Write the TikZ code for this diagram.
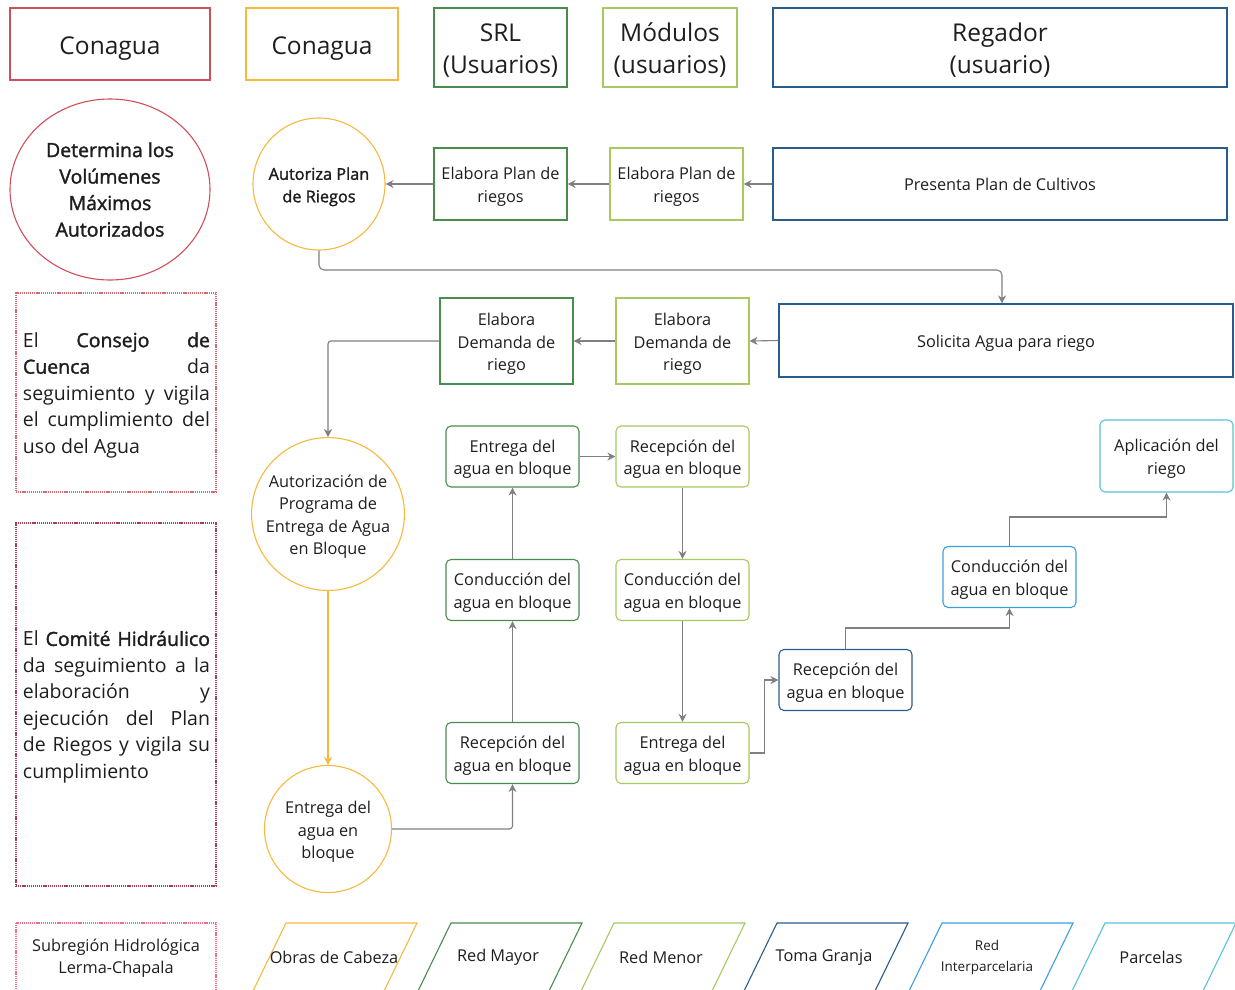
\documentclass[tikz,border=0pt]{standalone}
\usepackage{fontspec}
\setmainfont{Open Sans}
\newfontface\sbf[FakeBold=1.6]{Open Sans}
\usetikzlibrary{arrows.meta,shapes.geometric,calc}
\definecolor{cred}{RGB}{208,78,88}
\definecolor{corange}{RGB}{246,185,62}
\definecolor{cdgreen}{RGB}{72,140,78}
\definecolor{clgreen}{RGB}{166,202,96}
\definecolor{cdblue}{RGB}{40,92,140}
\definecolor{cblue}{RGB}{58,160,220}
\definecolor{ccyan}{RGB}{84,196,214}
\definecolor{cgray}{RGB}{128,128,128}
\definecolor{cmaroon}{RGB}{165,60,90}
\definecolor{cpink}{RGB}{240,110,140}
\definecolor{ctext}{RGB}{30,30,30}
\newcommand{\bstr}{\rule{0pt}{18pt}}
\newcommand{\hstr}{\rule{0pt}{24.6pt}}
\newcommand{\sstr}{\rule{0pt}{19pt}}
\newcommand{\ostr}{\rule[-4.5pt]{0pt}{22pt}}
\newcommand{\cstr}{\rule{0pt}{26.5pt}}
\tikzset{
  hdr/.style={draw, line width=1.3pt, align=center, inner sep=0pt, text=ctext, font=\fontsize{24.5}{32}\selectfont},
  bx/.style={draw, line width=1.1pt, align=center, inner sep=0pt, text=ctext, font=\fontsize{16.3}{22.5}\selectfont},
  rbx/.style={bx, rounded corners=5pt, minimum width=133pt, minimum height=61pt},
  circ/.style={circle, draw=corange, line width=1.1pt, align=center, inner sep=0pt, text=ctext, font=\fontsize{16.3}{22.5}\selectfont},
  dotbox/.style={draw, line width=1.2pt, dash pattern=on 1.2pt off 0.9pt},
  arr/.style={draw=cgray, line width=1.1pt, -{Stealth[length=8pt,width=8pt,inset=2.5pt]}},
  para/.style={line width=1.1pt},
  plabel/.style={text=ctext, align=center, inner sep=0pt, font=\fontsize{16.3}{22}\selectfont},
  sidetext/.style={text=ctext, align=left, inner sep=0pt, font=\fontsize{19.5}{26.5}\selectfont},
}
\begin{document}
\begin{tikzpicture}[x=1pt,y=-1pt]
\useasboundingbox (0,0) rectangle (1235,989);
% headers
\node[hdr, draw=cred, minimum width=200pt, minimum height=72pt] (h1) at (110,44) {\cstr Conagua};
\node[hdr, draw=corange, minimum width=152pt, minimum height=72pt] (h2) at (322,44) {\cstr Conagua};
\node[hdr, draw=cdgreen, minimum width=133pt, minimum height=79pt] (h3) at (500.5,47.5) {\hstr SRL\\(Usuarios)};
\node[hdr, draw=clgreen, minimum width=134pt, minimum height=79pt] (h4) at (670,47.5) {\hstr Módulos\\(usuarios)};
\node[hdr, draw=cdblue, minimum width=454pt, minimum height=79pt] (h5) at (1000,47.5) {\hstr Regador\\(usuario)};

% row 2
\node[ellipse, draw=cred, line width=1.1pt, minimum width=200pt, minimum height=181pt, inner sep=0pt, align=center, text=ctext, font=\fontsize{19.5}{26.5}\selectfont\sbf] (det) at (110,189.5) {Determina los\\Volúmenes\\Máximos\\Autorizados};
\node[circ, minimum size=132pt, font=\fontsize{16.3}{22.5}\selectfont\sbf] (aut) at (319,184) {\bstr Autoriza Plan\\de Riegos};
\node[bx, draw=cdgreen, minimum width=133pt, minimum height=72pt] (ep1) at (500.5,184) {\bstr Elabora Plan de\\riegos};
\node[bx, draw=clgreen, minimum width=133pt, minimum height=72pt] (ep2) at (676.5,184) {\bstr Elabora Plan de\\riegos};
\node[bx, draw=cdblue, minimum width=454pt, minimum height=72pt] (pres) at (1000,184) {\ostr Presenta Plan de Cultivos};

% row 3
\node[bx, draw=cdgreen, minimum width=133pt, minimum height=86pt] (dem1) at (506.5,341) {\bstr Elabora\\Demanda de\\riego};
\node[bx, draw=clgreen, minimum width=133pt, minimum height=86pt] (dem2) at (682.5,341) {\bstr Elabora\\Demanda de\\riego};
\node[bx, draw=cdblue, minimum width=454pt, minimum height=73pt] (sol) at (1006,340.5) {\ostr Solicita Agua para riego};

% left dotted boxes
\node[dotbox, draw=cred!85!white, minimum width=200pt, minimum height=199pt] (cons) at (116,392.5) {};
\node[sidetext] (constxt) at (116.5,393) {%
\hbox to 187pt{\sstr El\hfill{\sbf Consejo}\hfill{\sbf de}}\\
\hbox to 187pt{{\sbf Cuenca}\hfill da}\\
\hbox to 187pt{seguimiento\hfill y\hfill vigila}\\
\hbox to 187pt{el\hfill cumplimiento\hfill del}\\
\hbox to 187pt{uso del Agua\hfill}};
\node[dotbox, draw=cmaroon, minimum width=200pt, minimum height=363pt] (comi) at (116,704.5) {};
\node[sidetext] (comitxt) at (116.5,705) {%
\hbox to 187pt{\sstr El\hfill{\sbf Comité}\hfill{\sbf Hidráulico}}\\
\hbox to 187pt{da\hfill seguimiento\hfill a\hfill la}\\
\hbox to 187pt{elaboración\hfill y}\\
\hbox to 187pt{ejecución\hfill del\hfill Plan}\\
\hbox to 187pt{de\hfill Riegos\hfill y\hfill vigila\hfill su}\\
\hbox to 187pt{cumplimiento\hfill}};
\draw[dotbox, draw=cpink] (16,923) rectangle (216,991);
\node[plabel] (subr) at (116,958) {Subregión Hidrológica\\Lerma-Chapala};

% circles
\node[circ, minimum size=152pt] (autz) at (328,514) {\bstr Autorización de\\Programa de\\Entrega de Agua\\en Bloque};
\node[circ, minimum size=127pt] (ent) at (328,829) {\bstr Entrega del\\agua en\\bloque};

% rounded boxes
\node[rbx, draw=cdgreen] (edg) at (512.5,456.5) {\bstr Entrega del\\agua en bloque};
\node[rbx, draw=cdgreen] (cdg) at (512.5,590) {\bstr Conducción del\\agua en bloque};
\node[rbx, draw=cdgreen] (rdg) at (512.5,753) {\bstr Recepción del\\agua en bloque};
\node[rbx, draw=clgreen] (rlg) at (682.5,456.5) {\bstr Recepción del\\agua en bloque};
\node[rbx, draw=clgreen] (clg) at (682.5,590) {\bstr Conducción del\\agua en bloque};
\node[rbx, draw=clgreen] (elg) at (682.5,753) {\bstr Entrega del\\agua en bloque};
\node[rbx, draw=cdblue] (rdb) at (845.5,680) {\bstr Recepción del\\agua en bloque};
\node[rbx, draw=cblue] (cb) at (1009.5,577) {\bstr Conducción del\\agua en bloque};
\node[rbx, draw=ccyan, minimum height=72pt] (apl) at (1166.5,456) {\bstr Aplicación del\\riego};

% arrows
\draw[arr] (pres.west) -- (ep2.east);
\draw[arr] (ep2.west) -- (ep1.east);
\draw[arr] (ep1.west) -- (aut.east);
\draw[arr, rounded corners=5pt] (aut.south) -- (aut.south |- 0,270) -| ($(sol.north)+(-4,0)$);
\draw[arr] (sol.west) -- (dem2.east);
\draw[arr] (dem2.west) -- (dem1.east);
\draw[arr, rounded corners=3pt] (dem1.west) -| (autz.north);
\draw[arr, draw=corange] (autz.south) -- (ent.north);
\draw[arr, rounded corners=3pt] (ent.east) -| (rdg.south);
\draw[arr] (rdg.north) -- (cdg.south);
\draw[arr] (cdg.north) -- (edg.south);
\draw[arr] (edg.east) -- (rlg.west);
\draw[arr] (rlg.south) -- (clg.north);
\draw[arr] (clg.south) -- (elg.north);
\draw[arr] (elg.east) -- ++(15,0) |- (rdb.west);
\draw[arr] (rdb.north) -- ++(0,-21) -| (cb.south);
\draw[arr] (cb.north) -- ++(0,-29) -| (apl.south);

% bottom parallelograms
\foreach \x/\col/\nm in {286/corange/p1, 451/cdgreen/p2, 614/clgreen/p3, 777/cdblue/p4, 942/cblue/p5, 1105/ccyan/p6}{
  \draw[para, draw=\col] (\x,923) -- (\x+131,923) -- (\x+98,991) -- (\x-33,991) -- cycle;
}
\node[plabel] (t1) at (334,957.5) {Obras de Cabeza};
\node[plabel] (t2) at (498,957.5) {Red Mayor};
\node[plabel] (t3) at (661,957.5) {Red Menor};
\node[plabel] (t4) at (824,957.5) {Toma Granja};
\node[plabel, font=\fontsize{13.5}{21}\selectfont] (t5) at (987,957) {Red\\Interparcelaria};
\node[plabel] (t6) at (1151,957.5) {Parcelas};
\end{tikzpicture}
\end{document}
